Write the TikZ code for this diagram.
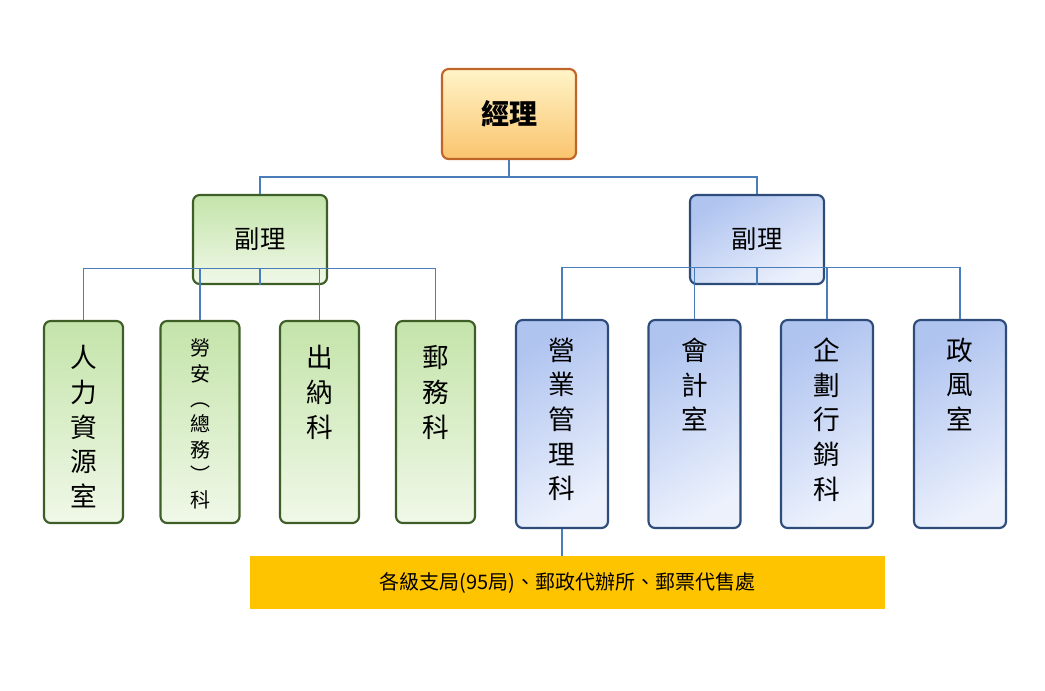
\documentclass[tikz,border=0pt]{standalone}
\usepackage{fontspec}
\newfontfamily\cjk{Noto Sans CJK TC}
\definecolor{lnc}{HTML}{4A7EBB}
\definecolor{gbd}{HTML}{3D5E27}
\definecolor{bbd}{HTML}{2E4C7A}
\definecolor{obd}{HTML}{C0642A}
\tikzset{
 box/.style={draw, line width=1.6pt, rounded corners=5pt, inner sep=0pt},
 gbox/.style={box, draw=gbd, top color=green!40!lime!30!white!85!black!0, bottom color=white, shading angle=30, top color={rgb,255:red,196;green,228;blue,170}, bottom color={rgb,255:red,240;green,248;blue,232}},
 bbox/.style={box, draw=bbd, top color={rgb,255:red,176;green,196;blue,240}, bottom color={rgb,255:red,236;green,241;blue,252}, shading angle=30},
 obox/.style={box, draw=obd, top color={rgb,255:red,255;green,244;blue,200}, bottom color={rgb,255:red,250;green,196;blue,110}},
 vt/.style={anchor=north, align=center, font=\cjk\fontsize{20}{26}\selectfont, inner sep=0pt},
 conn/.style={draw=lnc, line width=0.8pt},
}
\begin{document}
\begin{tikzpicture}[x=0.75pt,y=-0.75pt]
\useasboundingbox (0,0) rectangle (1045,690);
% top
\node[obox, minimum width=100.5pt, minimum height=67.5pt] (m) at (509,114) {\cjk\bfseries\fontsize{21}{24}\selectfont 經理};
\node[gbox, minimum width=100.5pt, minimum height=66.75pt] (dl) at (260,239.5) {\cjk\fontsize{19}{22}\selectfont 副理};
\node[bbox, minimum width=100.5pt, minimum height=66.75pt] (dr) at (757,239.5) {\cjk\fontsize{19}{22}\selectfont 副理};
% left children
\foreach \n/\x in {a/83.5,b/200,c/319.5,d/435.5}
  \node[gbox, minimum width=59.25pt, minimum height=151.5pt] (\n) at (\x,422) {};
\foreach \n/\x in {e/562,f/694.5,g/827,h/960}
  \node[bbox, minimum width=69pt, minimum height=156pt] (\n) at (\x,424) {};
\node[vt] (ta) at ([yshift=-19pt]a.north) {人\\力\\資\\源\\室};
\node[vt, font=\cjk\fontsize{15}{19}\selectfont] (tb) at ([yshift=-14pt]b.north) {勞\\安\\︵\\總\\務\\︶\\科};
\node[vt] (tc) at ([yshift=-19pt]c.north) {出\\納\\科};
\node[vt] (td) at ([yshift=-19pt]d.north) {郵\\務\\科};
\node[vt] (te) at ([yshift=-14pt]e.north) {營\\業\\管\\理\\科};
\node[vt] (tf) at ([yshift=-14pt]f.north) {會\\計\\室};
\node[vt] (tg) at ([yshift=-14pt]g.north) {企\\劃\\行\\銷\\科};
\node[vt] (th) at ([yshift=-14pt]h.north) {政\\風\\室};
% bar
\node[fill={rgb,255:red,255;green,196;blue,0}, minimum width=476pt, minimum height=40pt, inner sep=0pt] (bar) at (567.5,582.5) {\cjk\fontsize{15}{18}\selectfont 各級支局(95局)、郵政代辦所、郵票代售處};
% connectors
\coordinate (j1) at (509,177);
\draw[conn] (m.south) -- (j1);
\draw[conn] (dl.north) |- (j1) -| (dr.north);
\draw[conn] (dl.south) -- ++(0,-17) coordinate (j2);
\foreach \n in {a,b,c,d} \draw[conn] (\n.north) |- (j2);
\draw[conn] (dr.south) -- ++(0,-18) coordinate (j3);
\foreach \n in {e,f,g,h} \draw[conn] (\n.north) |- (j3);
\draw[conn] (e.south) -- (e.south |- bar.north);
\end{tikzpicture}
\end{document}
